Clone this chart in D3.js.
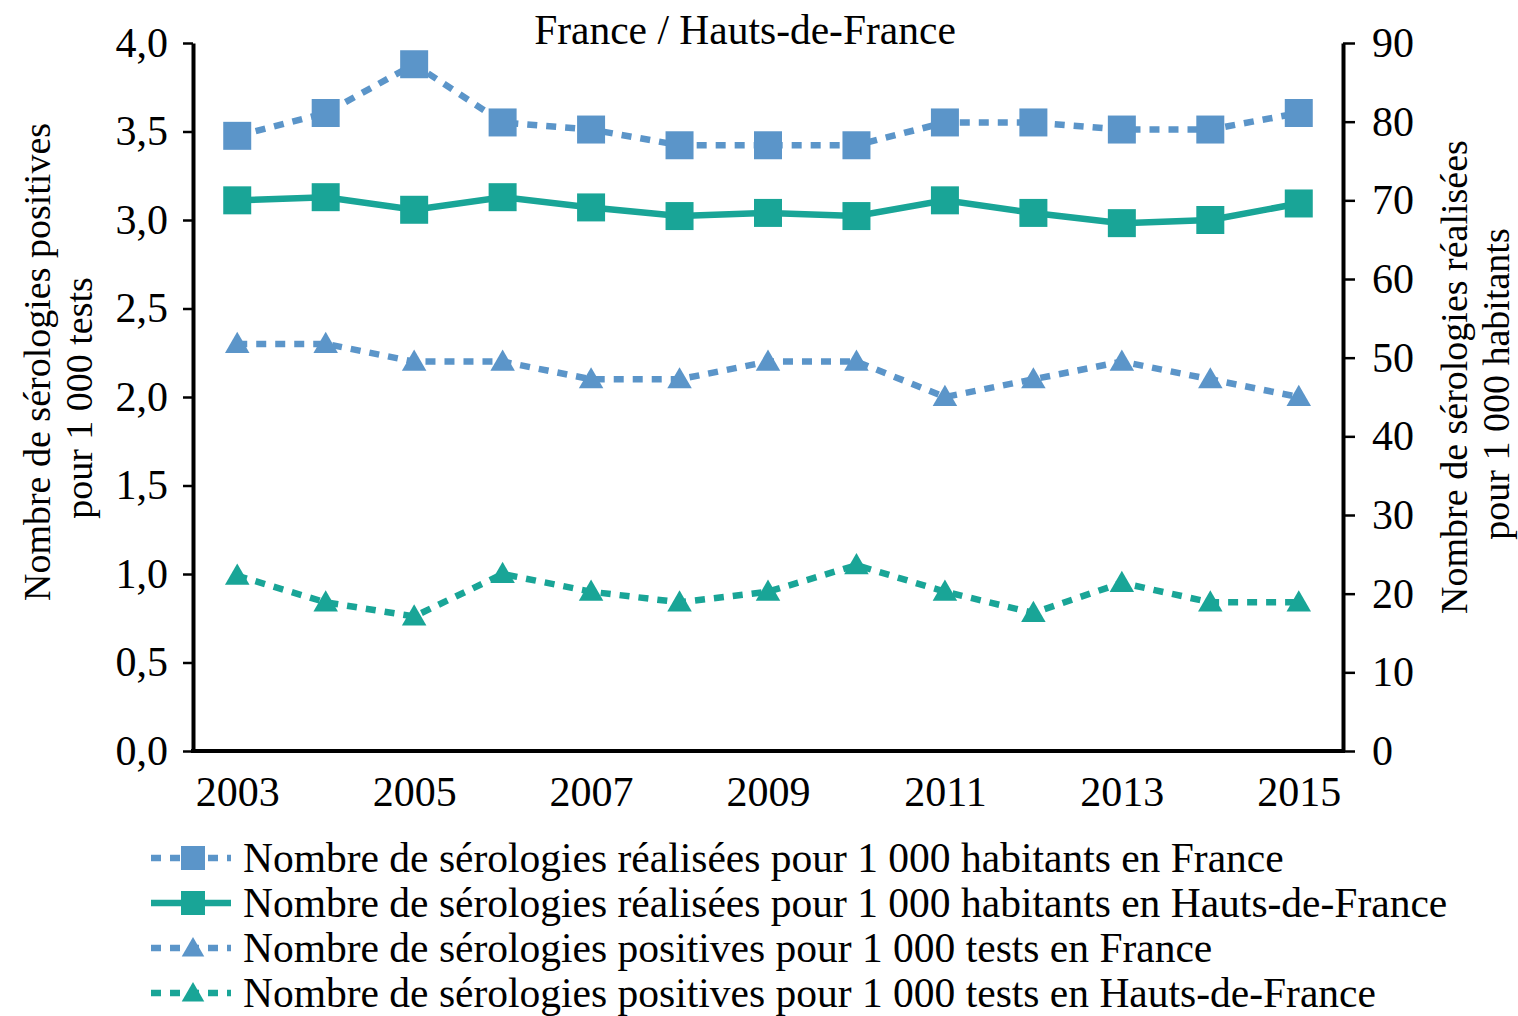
<!DOCTYPE html>
<html>
<head>
<meta charset="utf-8">
<script src="https://cdn.jsdelivr.net/npm/d3@7"></script>
<style>
  body { margin: 0; background: #fff; }
  svg text { font-family: "Liberation Serif", "Times New Roman", serif; fill: #000; }
</style>
</head>
<body>
<svg width="1518" height="1016"></svg>
<script>
// data
const years = ["2003", "2004", "2005", "2006", "2007", "2008", "2009", "2010", "2011", "2012", "2013", "2014", "2015"];
const yearLabels = ["2003", "2005", "2007", "2009", "2011", "2013", "2015"];
const franceTests = [78.2, 81.1, 87.3, 79.9, 79.0, 77.0, 77.0, 77.0, 79.9, 79.9, 79.0, 79.0, 81.1];
const hdfTests = [70.0, 70.4, 68.8, 70.4, 69.1, 68.0, 68.4, 68.0, 70.0, 68.4, 67.1, 67.5, 69.6];
const francePos = [2.3, 2.3, 2.2, 2.2, 2.1, 2.1, 2.2, 2.2, 2.0, 2.1, 2.2, 2.1, 2.0];
const hdfPos = [0.99, 0.84, 0.76, 1.0, 0.9, 0.84, 0.9, 1.05, 0.9, 0.78, 0.95, 0.84, 0.84];
const leftTicks = [0, 0.5, 1, 1.5, 2, 2.5, 3, 3.5, 4];
const rightTicks = [0, 10, 20, 30, 40, 50, 60, 70, 80, 90];

const blue = "#5b95c9";
const teal = "#19a597";

const series = [
  { name: "Nombre de sérologies réalisées pour 1 000 habitants en France", values: franceTests, axis: "right", color: blue, dash: "10,9", symbol: d3.symbolSquare },
  { name: "Nombre de sérologies réalisées pour 1 000 habitants en Hauts-de-France", values: hdfTests, axis: "right", color: teal, dash: null, symbol: d3.symbolSquare },
  { name: "Nombre de sérologies positives pour 1 000 tests en France", values: francePos, axis: "left", color: blue, dash: "10,9", symbol: d3.symbolTriangle },
  { name: "Nombre de sérologies positives pour 1 000 tests en Hauts-de-France", values: hdfPos, axis: "left", color: teal, dash: "10,9", symbol: d3.symbolTriangle }
];

const plot = { left: 193, right: 1343, top: 43, bottom: 751 };
const svg = d3.select("svg");

const x = d3.scalePoint().domain(years).range([plot.left, plot.right]).padding(0.5);
const yL = d3.scaleLinear().domain([0, 4]).range([plot.bottom, plot.top]);
const yR = d3.scaleLinear().domain([0, 90]).range([plot.bottom, plot.top]);

const fr = d3.formatLocale({ decimal: ",", thousands: " ", grouping: [3], currency: ["", " €"] });

// axes
const gL = svg.append("g").attr("transform", `translate(${plot.left},0)`)
  .call(d3.axisLeft(yL).tickValues(leftTicks).tickFormat(fr.format(".1f")).tickSize(10).tickPadding(15).tickSizeOuter(0));
const gR = svg.append("g").attr("transform", `translate(${plot.right},0)`)
  .call(d3.axisRight(yR).tickValues(rightTicks).tickSize(12).tickPadding(17).tickSizeOuter(0));
const gX = svg.append("g").attr("transform", `translate(0,${plot.bottom})`)
  .call(d3.axisBottom(x).tickValues(yearLabels).tickSize(0).tickPadding(25).tickSizeOuter(0));

[gL, gR, gX].forEach(g => {
  g.select(".domain").attr("stroke", "#000").attr("stroke-width", 4);
  g.selectAll(".tick line").attr("stroke", "#000").attr("stroke-width", 2.5);
  g.selectAll(".tick text").style("font-size", "42px").attr("fill", "#000");
});
gX.select(".domain").attr("d", `M${plot.left - 2},0H${plot.right + 2}`);

// lines and markers
series.forEach(s => {
  const y = s.axis === "left" ? yL : yR;
  const line = d3.line().x((d, i) => x(years[i])).y(d => y(d));
  svg.append("path")
    .datum(s.values)
    .attr("d", line)
    .attr("fill", "none")
    .attr("stroke", s.color)
    .attr("stroke-width", 6.5)
    .attr("stroke-dasharray", s.dash);
  const size = s.symbol === d3.symbolSquare ? 28 * 28 : 260;
  svg.append("g").selectAll("path")
    .data(s.values)
    .join("path")
    .attr("d", d3.symbol(s.symbol, size))
    .attr("transform", (d, i) => `translate(${x(years[i])},${y(d) + (s.symbol === d3.symbolTriangle ? 2 : 0)})`)
    .attr("fill", s.color);
});

// title
svg.append("text")
  .attr("x", 745).attr("y", 44)
  .attr("text-anchor", "middle")
  .style("font-size", "41.5px")
  .text("France / Hauts-de-France");

// axis titles
svg.append("text")
  .attr("transform", "translate(50,362) rotate(-90)")
  .attr("text-anchor", "middle")
  .style("font-size", "38px")
  .text("Nombre de sérologies positives");
svg.append("text")
  .attr("transform", "translate(92,398) rotate(-90)")
  .attr("text-anchor", "middle")
  .style("font-size", "38px")
  .text("pour 1 000 tests");

svg.append("text")
  .attr("transform", "translate(1467,377) rotate(-90)")
  .attr("text-anchor", "middle")
  .style("font-size", "38px")
  .text("Nombre de sérologies réalisées");
svg.append("text")
  .attr("transform", "translate(1509,384) rotate(-90)")
  .attr("text-anchor", "middle")
  .style("font-size", "38px")
  .text("pour 1 000 habitants");

// legend
const legend = svg.append("g");
series.forEach((s, i) => {
  const ly = 858 + i * 45;
  const g = legend.append("g").attr("transform", `translate(0,${ly})`);
  g.append("line")
    .attr("x1", 151).attr("x2", 231).attr("y1", 0).attr("y2", 0)
    .attr("stroke", s.color).attr("stroke-width", 6.5)
    .attr("stroke-dasharray", s.dash);
  const size = s.symbol === d3.symbolSquare ? 24 * 24 : 220;
  g.append("path")
    .attr("d", d3.symbol(s.symbol, size))
    .attr("transform", `translate(193,${s.symbol === d3.symbolTriangle ? 2 : 0})`)
    .attr("fill", s.color);
  g.append("text")
    .attr("x", 243).attr("y", 14)
    .style("font-size", "41.5px")
    .text(s.name);
});
</script>
</body>
</html>
